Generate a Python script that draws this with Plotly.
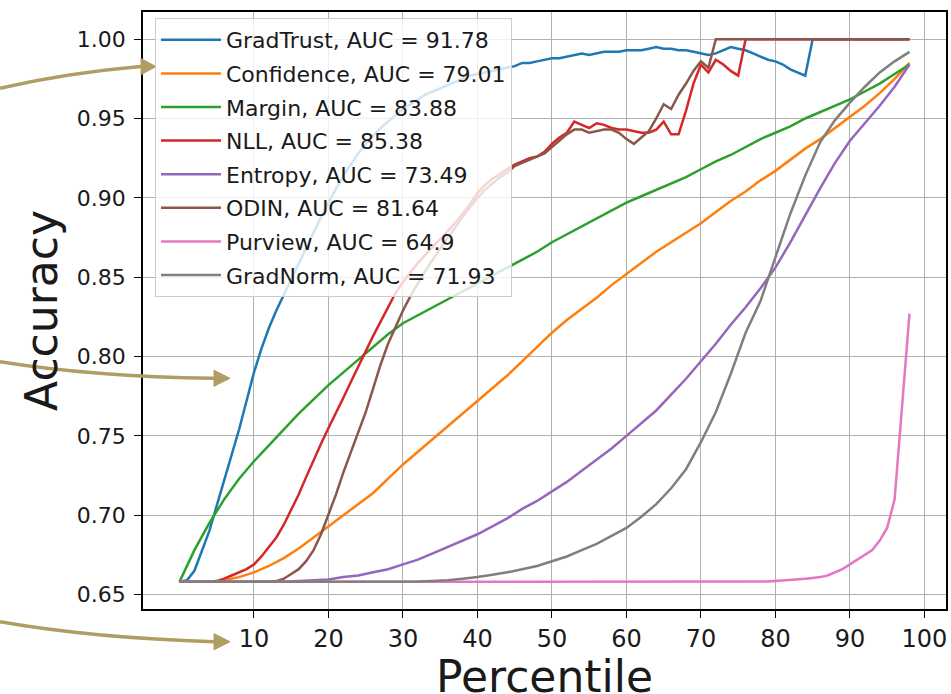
import plotly.graph_objects as go

# Percentile positions (x) for the two sampling resolutions
PCT_FINE = list(range(0, 99))
PCT_COARSE = list(range(0, 99, 2))

# Accuracy curves sampled every percentile
gradtrust = [
    0.658, 0.659, 0.665, 0.677, 0.690, 0.706, 0.722, 0.738, 0.754, 0.772,
    0.790, 0.805, 0.818, 0.829, 0.839, 0.849, 0.859, 0.869, 0.879, 0.888,
    0.897, 0.906, 0.914, 0.921, 0.928, 0.934, 0.939, 0.944, 0.948, 0.952,
    0.956, 0.959, 0.962, 0.965, 0.967, 0.969, 0.971, 0.973, 0.975, 0.977,
    0.978, 0.979, 0.980, 0.981, 0.982, 0.983, 0.985, 0.985, 0.986, 0.987,
    0.988, 0.988, 0.989, 0.990, 0.991, 0.990, 0.991, 0.992, 0.992, 0.992,
    0.993, 0.993, 0.993, 0.994, 0.995, 0.994, 0.994, 0.993, 0.993, 0.992,
    0.991, 0.990, 0.991, 0.993, 0.995, 0.994, 0.993, 0.991, 0.989, 0.987,
    0.986, 0.984, 0.981, 0.979, 0.977, 1.000, 1.000, 1.000, 1.000, 1.000,
    1.000, 1.000, 1.000, 1.000, 1.000, 1.000, 1.000, 1.000, 1.000,
]
nll = [
    0.658, 0.658, 0.658, 0.658, 0.658, 0.6585, 0.660, 0.662, 0.664, 0.666,
    0.669, 0.674, 0.680, 0.686, 0.694, 0.703, 0.713, 0.724, 0.735, 0.745,
    0.755, 0.764, 0.774, 0.784, 0.794, 0.803, 0.813, 0.822, 0.831, 0.840,
    0.847, 0.853, 0.859, 0.864, 0.869, 0.874, 0.879, 0.884, 0.890, 0.896,
    0.903, 0.908, 0.912, 0.915, 0.918, 0.921, 0.923, 0.925, 0.926, 0.929,
    0.934, 0.938, 0.941, 0.948, 0.946, 0.944, 0.947, 0.946, 0.944, 0.943,
    0.943, 0.942, 0.941, 0.941, 0.943, 0.948, 0.940, 0.940, 0.955, 0.972,
    0.984, 0.979, 0.987, 0.984, 0.980, 0.977, 1.000, 1.000, 1.000, 1.000,
    1.000, 1.000, 1.000, 1.000, 1.000, 1.000, 1.000, 1.000, 1.000, 1.000,
    1.000, 1.000, 1.000, 1.000, 1.000, 1.000, 1.000, 1.000, 1.000,
]
odin = [
    0.658, 0.658, 0.658, 0.658, 0.658, 0.658, 0.658, 0.658, 0.658, 0.658,
    0.658, 0.658, 0.658, 0.6585, 0.660, 0.663, 0.666, 0.671, 0.678, 0.688,
    0.700, 0.713, 0.727, 0.740, 0.752, 0.765, 0.780, 0.795, 0.808, 0.819,
    0.829, 0.838, 0.846, 0.854, 0.861, 0.868, 0.875, 0.881, 0.888, 0.894,
    0.900, 0.905, 0.909, 0.913, 0.916, 0.920, 0.922, 0.924, 0.926, 0.928,
    0.932, 0.936, 0.940, 0.943, 0.943, 0.941, 0.942, 0.943, 0.943, 0.941,
    0.937, 0.934, 0.938, 0.942, 0.950, 0.959, 0.956, 0.965, 0.972, 0.980,
    0.986, 0.982, 1.000, 1.000, 1.000, 1.000, 1.000, 1.000, 1.000, 1.000,
    1.000, 1.000, 1.000, 1.000, 1.000, 1.000, 1.000, 1.000, 1.000, 1.000,
    1.000, 1.000, 1.000, 1.000, 1.000, 1.000, 1.000, 1.000, 1.000,
]
purview = [
    0.658, 0.658, 0.658, 0.658, 0.658, 0.658, 0.658, 0.658, 0.658, 0.658,
    0.658, 0.658, 0.658, 0.658, 0.658, 0.658, 0.658, 0.658, 0.658, 0.658,
    0.658, 0.658, 0.658, 0.658, 0.658, 0.658, 0.658, 0.658, 0.658, 0.658,
    0.658, 0.658, 0.658, 0.658, 0.658, 0.658, 0.658, 0.658, 0.658, 0.658,
    0.658, 0.658, 0.658, 0.658, 0.658, 0.658, 0.658, 0.658, 0.658, 0.658,
    0.658, 0.658, 0.658, 0.658, 0.658, 0.658, 0.658, 0.658, 0.658, 0.658,
    0.658, 0.658, 0.658, 0.658, 0.658, 0.658, 0.658, 0.658, 0.658, 0.658,
    0.658, 0.658, 0.658, 0.658, 0.658, 0.658, 0.658, 0.658, 0.658, 0.6582,
    0.6585, 0.6588, 0.659, 0.6595, 0.660, 0.6605, 0.661, 0.662, 0.664, 0.666,
    0.669, 0.672, 0.675, 0.678, 0.684, 0.692, 0.710, 0.768, 0.827,
]

# Accuracy curves sampled every second percentile
confidence = [
    0.658, 0.658, 0.658, 0.659, 0.661, 0.664, 0.668, 0.673, 0.679, 0.686,
    0.693, 0.700, 0.707, 0.714, 0.723, 0.732, 0.740, 0.748, 0.756, 0.764,
    0.772, 0.780, 0.788, 0.797, 0.806, 0.815, 0.823, 0.830, 0.837, 0.845,
    0.852, 0.859, 0.866, 0.872, 0.878, 0.884, 0.891, 0.898, 0.904, 0.911,
    0.917, 0.924, 0.931, 0.937, 0.944, 0.951, 0.958, 0.966, 0.975, 0.985,
]
margin = [
    0.658, 0.678, 0.695, 0.710, 0.723, 0.734, 0.744, 0.754, 0.764, 0.773,
    0.782, 0.790, 0.798, 0.806, 0.814, 0.821, 0.826, 0.831, 0.836, 0.841,
    0.846, 0.851, 0.856, 0.861, 0.866, 0.872, 0.877, 0.882, 0.887, 0.892,
    0.897, 0.901, 0.905, 0.909, 0.913, 0.918, 0.923, 0.927, 0.932, 0.937,
    0.941, 0.945, 0.950, 0.954, 0.958, 0.962, 0.967, 0.972, 0.978, 0.984,
]
entropy = [
    0.658, 0.658, 0.658, 0.658, 0.658, 0.658, 0.658, 0.6582, 0.6585, 0.659,
    0.6595, 0.661, 0.662, 0.664, 0.666, 0.669, 0.672, 0.676, 0.680, 0.684,
    0.688, 0.693, 0.698, 0.704, 0.709, 0.715, 0.721, 0.728, 0.735, 0.742,
    0.750, 0.758, 0.766, 0.776, 0.786, 0.797, 0.808, 0.820, 0.831, 0.843,
    0.856, 0.872, 0.889, 0.906, 0.922, 0.936, 0.947, 0.958, 0.970, 0.984,
]
gradnorm = [
    0.658, 0.658, 0.658, 0.658, 0.658, 0.658, 0.658, 0.658, 0.658, 0.658,
    0.658, 0.658, 0.658, 0.658, 0.658, 0.658, 0.6582, 0.6585, 0.659, 0.660,
    0.661, 0.6625, 0.664, 0.666, 0.668, 0.671, 0.674, 0.678, 0.682, 0.687,
    0.692, 0.699, 0.707, 0.717, 0.729, 0.746, 0.765, 0.789, 0.815, 0.835,
    0.862, 0.890, 0.914, 0.935, 0.949, 0.960, 0.970, 0.979, 0.986, 0.992,
]

METHODS = ["GradTrust", "Confidence", "Margin", "NLL", "Entropy", "ODIN", "Purview", "GradNorm"]
AUC = ["91.78", "79.01", "83.88", "85.38", "73.49", "81.64", "64.9", "71.93"]
SERIES = [
    (PCT_FINE, gradtrust), (PCT_COARSE, confidence), (PCT_COARSE, margin), (PCT_FINE, nll),
    (PCT_COARSE, entropy), (PCT_FINE, odin), (PCT_FINE, purview), (PCT_COARSE, gradnorm),
]
COLORS = ["#1f77b4", "#ff7f0e", "#2ca02c", "#d62728", "#9467bd", "#8c564b", "#e377c2", "#7f7f7f"]

X_TICKS = [10, 20, 30, 40, 50, 60, 70, 80, 90, 100]
Y_TICKS = [0.65, 0.70, 0.75, 0.80, 0.85, 0.90, 0.95, 1.00]

W, H = 951, 694
ML, MR, MT, MB = 143, 5, 12, 85
FONT = "DejaVu Sans, Verdana, sans-serif"
ARROW = "#b09d62"

fig = go.Figure()
for name, auc, (xs, ys), color in zip(METHODS, AUC, SERIES, COLORS):
    fig.add_trace(go.Scatter(
        x=xs, y=ys, mode="lines", name=f"{name}, AUC = {auc}",
        legendgroup=name,
        line=dict(color=color, width=2.5),
    ))


def to_paper(px, py):
    """Convert page pixel coordinates into paper coordinates."""
    return (px - ML) / (W - ML - MR), (H - MB - py) / (H - MT - MB)


def curved_arrow(p0, c, p1, tip, half):
    """Quadratic curve p0->p1 (pixels) with a triangular head ending at tip."""
    a = to_paper(*p0)
    b = to_paper(*c)
    e = to_paper(*p1)
    fig.add_shape(type="path", xref="paper", yref="paper",
                  path=f"M {a[0]},{a[1]} Q {b[0]},{b[1]} {e[0]},{e[1]}",
                  line=dict(color=ARROW, width=3.5), layer="above")
    t = to_paper(*tip)
    u = to_paper(p1[0], p1[1] - half)
    d = to_paper(p1[0], p1[1] + half)
    fig.add_shape(type="path", xref="paper", yref="paper",
                  path=f"M {u[0]},{u[1]} L {t[0]},{t[1]} L {d[0]},{d[1]} Z",
                  fillcolor=ARROW, line=dict(color=ARROW, width=1), layer="above")


curved_arrow((0, 88.3), (69, 72.6), (141, 66.6), (156, 66.6), 8)
curved_arrow((0, 361.7), (93, 376.6), (214, 378.3), (230, 378.3), 8)
curved_arrow((0, 621.7), (93, 638.0), (214, 641.7), (230, 641.7), 8)

# x-axis title placed as a paper annotation below the tick labels
fig.add_annotation(
    text="Percentile", xref="paper", yref="paper",
    x=0.5, y=to_paper(0, 676)[1], xanchor="center", yanchor="middle",
    showarrow=False, font=dict(size=44, family=FONT, color="#1a1a1a"),
)

axis_common = dict(
    showgrid=True, gridcolor="#b0b0b0", gridwidth=1.2,
    showline=True, linecolor="black", linewidth=1.5, mirror=True,
    ticks="outside", ticklen=7, tickwidth=1.3, tickcolor="black",
    zeroline=False, automargin=False,
)

fig.update_layout(
    width=W, height=H,
    margin=dict(l=ML, r=MR, t=MT, b=MB),
    paper_bgcolor="white", plot_bgcolor="white",
    font=dict(family=FONT, color="#1a1a1a"),
    showlegend=True,
    legend=dict(
        x=(155 - ML) / (W - ML - MR), y=(H - MB - 18) / (H - MT - MB),
        xanchor="left", yanchor="top",
        bgcolor="rgba(255,255,255,0.8)", bordercolor="#cccccc", borderwidth=1,
        font=dict(size=22, family=FONT, color="#1a1a1a"),
        itemwidth=60, tracegroupgap=2,
    ),
    xaxis=dict(
        **axis_common,
        range=[-4.9, 102.9], tickvals=X_TICKS, ticktext=[str(v) for v in X_TICKS],
        tickfont=dict(size=24),
    ),
    yaxis=dict(
        **axis_common,
        range=[0.6409, 1.0171], tickvals=Y_TICKS, ticktext=[f"{v:.2f}" for v in Y_TICKS],
        tickfont=dict(size=22), ticklabelstandoff=4,
        title=dict(text="Accuracy", font=dict(size=44), standoff=5),
    ),
)

fig.write_html("out.html")
